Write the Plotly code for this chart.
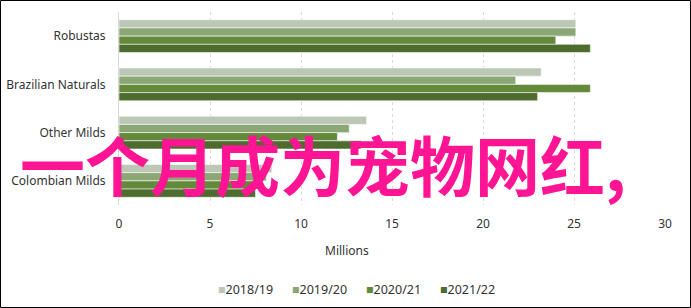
import plotly.graph_objects as go

categories = ["Robustas", "Brazilian Naturals", "Other Milds", "Colombian Milds"]
series_names = ["2018/19", "2019/20", "2020/21", "2021/22"]
v_2018_19 = [25.1, 23.2, 13.6, 8.4]
v_2019_20 = [25.1, 21.8, 12.65, 8.1]
v_2020_21 = [24.0, 25.9, 12.0, 7.8]
v_2021_22 = [25.9, 23.0, 13.3, 7.5]
x_ticks = [0, 5, 10, 15, 20, 25, 30]
colors = ["#BCC8B5", "#8BA776", "#63893A", "#4E6C2E"]
overlay_text = "一个月成为宠物网红,"

values = [v_2018_19, v_2019_20, v_2020_21, v_2021_22]

fig = go.Figure()
for name, vals, col in zip(series_names, values, colors):
    fig.add_trace(go.Bar(
        y=categories, x=vals, name=name, orientation="h",
        marker=dict(color=col, line=dict(color="rgba(255,255,255,0.55)", width=1)),
    ))

W, H = 691, 308
L, R, T, B = 119, 26, 12, 103
pw, ph = W - L - R, H - T - B

def px(xp):
    return (xp - L) / pw

def py(yp):
    return (T + ph - yp) / ph

# legend drawn as text entries (coloured square + series name)
legend_annots = []
for i, (name, col) in enumerate(zip(series_names, colors)):
    legend_annots.append(dict(
        text=f"<span style='color:{col}'>■</span>{name}",
        xref="paper", yref="paper", x=px(216 + i * 74), y=py(289),
        xanchor="left", yanchor="middle", showarrow=False,
        font=dict(size=12.5, color="#333333"),
    ))

fig.update_layout(
    width=W, height=H,
    margin=dict(l=L, r=R, t=T, b=B, autoexpand=False),
    paper_bgcolor="white", plot_bgcolor="white",
    barmode="group", bargap=0.32, bargroupgap=0,
    font=dict(family="Noto Sans", size=12, color="#333333"),
    showlegend=False,
    xaxis=dict(range=[0, 30], tickvals=x_ticks, showgrid=True, gridcolor="#D9D9D9",
               griddash="dot", gridwidth=1, zeroline=False, showline=False,
               ticks="", ticklabelstandoff=10, fixedrange=True, automargin=False,
               tickfont=dict(size=12, color="#333333")),
    yaxis=dict(categoryorder="array", categoryarray=categories, autorange="reversed",
               showgrid=False, zeroline=False, showline=True, linecolor="#D9D9D9",
               linewidth=1, ticks="", ticklabelstandoff=10, automargin=False,
               tickfont=dict(size=12, color="#333333")),
    annotations=[
        dict(text="Millions", xref="paper", yref="paper", x=px(347), y=py(250),
             xanchor="center", yanchor="middle", showarrow=False,
             font=dict(size=12, color="#333333")),
    ] + legend_annots + [
        dict(text=overlay_text, xref="paper", yref="paper", x=px(18), y=py(163),
             xanchor="left", yanchor="middle", showarrow=False,
             font=dict(family="Noto Sans CJK SC", size=65, color="#FF1493", weight="bold")),
    ],
    shapes=[
        dict(type="rect", xref="paper", yref="paper",
             x0=px(0.5), x1=px(690.5), y0=py(307.5), y1=py(0.5),
             line=dict(color="black", width=1), fillcolor="rgba(0,0,0,0)", layer="above"),
    ],
)

fig.write_html("out.html")
